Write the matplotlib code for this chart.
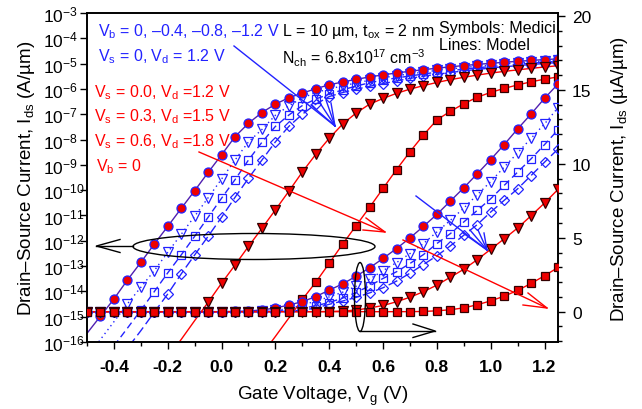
import matplotlib
matplotlib.use("Agg")
import numpy as np
import matplotlib.pyplot as plt
from matplotlib.patches import Ellipse
from matplotlib.ticker import FixedLocator, MultipleLocator, FuncFormatter, NullLocator

plt.rcParams['font.family'] = ['Liberation Sans', 'DejaVu Sans']
plt.rcParams['mathtext.fontset'] = 'custom'
plt.rcParams['mathtext.rm'] = 'Liberation Sans'
plt.rcParams['mathtext.it'] = 'Liberation Sans:italic'
plt.rcParams['mathtext.bf'] = 'Liberation Sans:bold'
plt.rcParams['axes.unicode_minus'] = False

# gate voltage (V)
vg = [-0.50, -0.45, -0.40, -0.35, -0.30, -0.25, -0.20, -0.15, -0.10, -0.05,
      0.00, 0.05, 0.10, 0.15, 0.20, 0.25, 0.30, 0.35, 0.40, 0.45,
      0.50, 0.55, 0.60, 0.65, 0.70, 0.75, 0.80, 0.85, 0.90, 0.95,
      1.00, 1.05, 1.10, 1.15, 1.20, 1.25]

# drain current (uA/um)
# Vb = 0, Vs = 0, Vd = 1.2 V (same as red Vs = 0.0 curve)
ids_vb0 = [2.2e-10, 1.05e-9, 5.0e-9, 2.8e-8, 1.4e-7, 7.4e-7, 3.7e-6, 1.9e-5, 9.5e-5, 5.0e-4,
           2.5e-3, 1.3e-2, 4.4e-2, 0.117, 0.25, 0.45, 0.68, 1.02, 1.46, 1.88,
           2.40, 2.97, 3.60, 4.27, 4.99, 5.77, 6.58, 7.48, 8.38, 9.33,
           10.29, 11.30, 12.36, 13.37, 14.43, 15.40]
# Vb = -0.4 V
ids_vb04 = [2.5e-11, 1.26e-10, 6.3e-10, 3.2e-9, 1.45e-8, 6.6e-8, 3.5e-7, 1.8e-6, 9.3e-6, 5.0e-5,
            2.75e-4, 1.55e-3, 8.1e-3, 2.5e-2, 9.1e-2, 0.214, 0.44, 0.72, 1.00, 1.32,
            1.72, 2.20, 2.78, 3.32, 3.93, 4.61, 5.39, 6.18, 7.01, 7.91,
            8.80, 9.78, 10.74, 11.73, 12.70, 13.80]
# Vb = -0.8 V
ids_vb08 = [2.8e-12, 1.4e-11, 7.0e-11, 3.5e-10, 1.8e-9, 9.8e-9, 5.4e-8, 2.75e-7, 1.5e-6, 8.5e-6,
            4.8e-5, 2.6e-4, 1.55e-3, 7.8e-3, 3.3e-2, 9.3e-2, 0.22, 0.40, 0.62, 0.92,
            1.30, 1.75, 2.25, 2.70, 3.26, 3.86, 4.61, 5.28, 6.07, 6.85,
            7.64, 8.54, 9.44, 10.34, 11.30, 12.30]
# Vb = -1.2 V
ids_vb12 = [4.4e-13, 2.2e-12, 1.1e-11, 5.6e-11, 2.8e-10, 1.5e-9, 7.9e-9, 4.9e-8, 2.75e-7, 1.5e-6,
            8.5e-6, 5.2e-5, 2.95e-4, 1.55e-3, 8.1e-3, 3.3e-2, 0.10, 0.25, 0.50, 0.72,
            0.97, 1.27, 1.62, 2.07, 2.60, 3.19, 3.78, 4.45, 5.17, 5.89,
            6.74, 7.53, 8.31, 9.21, 10.11, 11.00]
# Vs = 0.3, Vd = 1.5 V
ids_vs03 = [1.6e-15, 8.0e-15, 4.0e-14, 2.0e-13, 1.0e-12, 5.0e-12, 2.5e-11, 1.26e-10, 7.0e-10, 3.7e-9,
            2.1e-8, 1.1e-7, 6.0e-7, 3.1e-6, 1.66e-5, 9.1e-5, 5.2e-4, 2.6e-3, 1.12e-2, 4.1e-2,
            0.112, 0.25, 0.42, 0.67, 0.98, 1.35, 1.80, 2.33, 2.87, 3.52,
            4.22, 4.93, 5.66, 6.49, 7.35, 8.27]
# Vs = 0.6, Vd = 1.8 V
ids_vs06 = [1.6e-20, 8.0e-20, 4.0e-19, 2.0e-18, 1.0e-17, 5.0e-17, 2.5e-16, 1.3e-15, 7.0e-15, 4.0e-14,
            2.0e-13, 1.1e-12, 6.0e-12, 3.2e-11, 1.66e-10, 8.9e-10, 4.8e-9, 2.3e-8, 1.29e-7, 7.4e-7,
            4.0e-6, 2.1e-5, 1.17e-4, 6.5e-4, 3.3e-3, 1.5e-2, 6.0e-2, 0.13, 0.26, 0.47,
            0.73, 1.05, 1.44, 1.91, 2.43, 2.99]

BLUE = '#2222ff'
RED = '#ff0000'
PURPLE = '#5020b0'

series = [
    # data, marker, face, edge, line color, line style
    (ids_vb12, 'D', 'none', BLUE, BLUE, (0, (7, 3))),
    (ids_vb08, 's', 'none', BLUE, BLUE, (0, (5, 3))),
    (ids_vb04, 'v', 'none', BLUE, BLUE, (0, (1, 2.5))),
    (ids_vb0, 'o', '#ee0000', BLUE, PURPLE, '-'),
    (ids_vs03, 'v', '#ee0000', '#330000', RED, '-'),
    (ids_vs06, 's', '#ee0000', '#330000', RED, '-'),
]
msize = {'o': 6.5, 's': 5.8, 'v': 6.5, 'D': 4.8}

fig = plt.figure(figsize=(6.42, 4.10), dpi=100)
ax = fig.add_axes([87 / 642, 1 - 343 / 410, 471 / 642, 329 / 410])
ax2 = ax.twinx()

x = np.array(vg)
for data, mk, fc, ec, lc, ls in series:
    i_ua = np.array(data)
    # log scale (A/um)
    ax.plot(x, i_ua * 1e-6, color=lc, ls=ls, lw=1.0, zorder=2)
    keep = i_ua >= 1e-9
    ax.plot(x[keep], i_ua[keep] * 1e-6, ls='none', marker=mk, ms=msize[mk],
            mfc=fc, mec=ec, mew=0.9, zorder=3)
    # linear scale (uA/um)
    ax2.plot(x, i_ua, color=lc, ls=ls, lw=1.0, zorder=2)
    ax2.plot(x, i_ua, ls='none', marker=mk, ms=msize[mk],
             mfc=fc, mec=ec, mew=0.9, zorder=3)

# axes settings
ax.set_xlim(-0.5, 1.25)
ax.set_yscale('log')
ax.set_ylim(1e-16, 1e-3)
ax.yaxis.set_major_locator(FixedLocator([10.0 ** k for k in range(-16, -2)]))
ax.yaxis.set_minor_locator(NullLocator())
ax.yaxis.set_major_formatter(FuncFormatter(lambda v, p: r'$\mathregular{10^{%d}}$' % round(np.log10(v))))
ax.xaxis.set_major_locator(FixedLocator([-0.4, -0.2, 0.0, 0.2, 0.4, 0.6, 0.8, 1.0, 1.2]))
ax.xaxis.set_minor_locator(MultipleLocator(0.1))
ax.xaxis.set_major_formatter(FuncFormatter(lambda v, p: '%.1f' % v))

ax2.set_ylim(-2.05, 20.2)
ax2.yaxis.set_major_locator(FixedLocator([0, 5, 10, 15, 20]))
ax2.yaxis.set_minor_locator(MultipleLocator(1))

ax.tick_params(axis='x', which='major', direction='out', length=5, width=1, labelsize=12.5, pad=7)
ax.tick_params(axis='x', which='minor', direction='out', length=3, width=1)
# left tick labels are left-aligned at x = 45 px
ax.tick_params(axis='y', which='major', direction='out', length=5, width=1, labelsize=12.5, pad=26.5)
ax2.tick_params(axis='y', which='major', direction='out', length=5, width=1, labelsize=12.5, pad=5)
ax2.tick_params(axis='y', which='minor', direction='out', length=3, width=1)
for lab in ax.get_yticklabels():
    lab.set_horizontalalignment('left')
for lab in ax.get_xticklabels():
    lab.set_fontweight('bold')
for a in (ax, ax2):
    for s in a.spines.values():
        s.set_linewidth(1.2)

ax.set_xlabel('Gate Voltage, V$_\\mathrm{g}$ (V)', fontsize=13.5, labelpad=7)
ax.set_ylabel('Drain\u2013Source Current, I$_\\mathrm{ds}$ (A/\u00b5m)', fontsize=13.5)
ax.yaxis.set_label_coords((37 - 87) / 471.0, 0.5)
ax2.set_ylabel('Drain\u2013Source Current, I$_\\mathrm{ds}$ (\u00b5A/\u00b5m)', fontsize=13.5,
               rotation=90)
ax2.yaxis.set_label_coords((609 - 87) / 471.0, 0.5)


def P(px, py):
    return ((px - 87) / 471.0, (343 - py) / 329.0)


def seg(pts, color, lw=1.0):
    xs = [P(*p)[0] for p in pts]
    ys = [P(*p)[1] for p in pts]
    ax2.plot(xs, ys, color=color, lw=lw, transform=ax2.transAxes, clip_on=False, zorder=5)


# annotation texts
txt = dict(transform=ax2.transAxes, fontsize=11.5, va='baseline', ha='left', zorder=6)
ax2.text(*P(98, 36.5), 'V$_\\mathrm{b}$ = 0, \u20130.4, \u20130.8, \u20131.2 V', color=BLUE, **txt)
ax2.text(*P(98, 61), 'V$_\\mathrm{s}$ = 0, V$_\\mathrm{d}$ = 1.2 V', color=BLUE, **txt)
ax2.text(*P(94, 97), 'V$_\\mathrm{s}$ = 0.0, V$_\\mathrm{d}$ =1.2 V', color=RED, **txt)
ax2.text(*P(94, 121.5), 'V$_\\mathrm{s}$ = 0.3, V$_\\mathrm{d}$ =1.5 V', color=RED, **txt)
ax2.text(*P(94, 146.5), 'V$_\\mathrm{s}$ = 0.6, V$_\\mathrm{d}$ =1.8 V', color=RED, **txt)
ax2.text(*P(96.5, 171.5), 'V$_\\mathrm{b}$ = 0', color=RED, **txt)
ax2.text(*P(282, 36), 'L = 10 \u00b5m, t$_\\mathrm{ox}$ = 2 nm', color='black', **txt)
ax2.text(*P(282, 64), 'N$_\\mathrm{ch}$ = 6.8x10$^{17}$ cm$^{\u22123}$', color='black', **txt)
ax2.text(*P(439, 33), 'Symbols: Medici', color='black', **txt)
ax2.text(*P(439, 50.5), 'Lines: Model', color='black', **txt)

# blue arrows (Vb direction)
seg([(234, 47), (335, 127)], BLUE)
for p in [(311, 106), (318, 101), (326, 101), (331, 104)]:
    seg([(335, 127), p], BLUE)
seg([(416, 197), (487, 251)], BLUE)
for p in [(463, 234), (470, 231), (478, 231), (484, 234)]:
    seg([(487, 251), p], BLUE)

# red arrows (Vs direction)
seg([(199, 153), (385, 233)], RED)
seg([(366, 219), (385, 233), (363, 231)], RED)
seg([(403, 241), (547, 309)], RED)
seg([(528, 294), (547, 309), (523, 306)], RED)

# ellipses with arrows pointing to their axis
e1 = Ellipse(P(254, 247.5), 242 / 471.0, 26 / 329.0, transform=ax2.transAxes,
             fill=False, ec='black', lw=1.0, zorder=5)
ax2.add_patch(e1)
seg([(133, 247), (96.5, 247)], 'black')
seg([(120, 240.5), (96.5, 247), (120, 253.5)], 'black')

e2 = Ellipse(P(360, 298), 11 / 471.0, 69 / 329.0, transform=ax2.transAxes,
             fill=False, ec='black', lw=1.0, zorder=5)
ax2.add_patch(e2)
seg([(360, 332), (435, 332)], 'black')
seg([(413, 325), (435, 332), (413, 338.5)], 'black')

fig.savefig('out.png', dpi=100)
